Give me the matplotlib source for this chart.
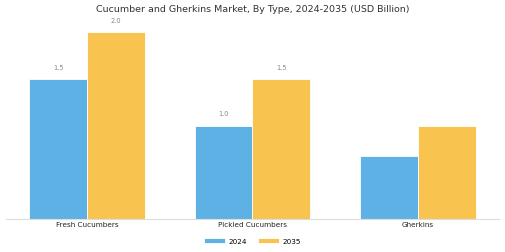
import matplotlib
matplotlib.use("Agg")
import matplotlib.pyplot as plt
import numpy as np

# chart data
categories = ["Fresh Cucumbers", "Pickled Cucumbers", "Gherkins"]
values_2024 = [1.5, 1.0, 0.67]
values_2035 = [2.0, 1.5, 1.0]
labels_2024 = ["1.5", "1.0", ""]
labels_2035 = ["2.0", "1.5", ""]

blue = "#5DB1E4"
yellow = "#F8C44F"

fig = plt.figure(figsize=(5.05, 2.53), dpi=100)
ax = fig.add_axes([6 / 505, 33.3 / 253, 493 / 505, 205 / 253])

x = np.arange(len(categories))
w = 0.35
b1 = ax.bar(x - w / 2, values_2024, w, color=blue, edgecolor="white", linewidth=0.6, label="2024")
b2 = ax.bar(x + w / 2, values_2035, w, color=yellow, edgecolor="white", linewidth=0.6, label="2035")

for bars, labs in [(b1, labels_2024), (b2, labels_2035)]:
    for rect, lab in zip(bars, labs):
        if lab:
            ax.text(rect.get_x() + rect.get_width() / 2, rect.get_height() + 0.1, lab,
                    ha="center", va="bottom", fontsize=4.8, color="#888888")

ax.set_xlim(-0.49, 2.49)
ax.set_ylim(0, 2.2)
ax.set_yticks([])
ax.set_xticks(x)
ax.set_xticklabels(categories, fontsize=5.2, color="#222222")
ax.tick_params(axis="x", length=0, pad=2)
for s in ["top", "right", "left"]:
    ax.spines[s].set_visible(False)
ax.spines["bottom"].set_color("#dddddd")
ax.spines["bottom"].set_linewidth(0.8)

fig.text(0.5, 1 - 10 / 253, "Cucumber and Gherkins Market, By Type, 2024-2035 (USD Billion)",
         ha="center", va="center", fontsize=6.8, color="#333333")

fig.legend(loc="center", bbox_to_anchor=(0.5, 1 - 242 / 253), ncol=2, frameon=False,
           fontsize=5.2, handlelength=2.8, handleheight=0.8, handletextpad=0.5,
           columnspacing=1.6)

fig.savefig("out.png", dpi=100)
